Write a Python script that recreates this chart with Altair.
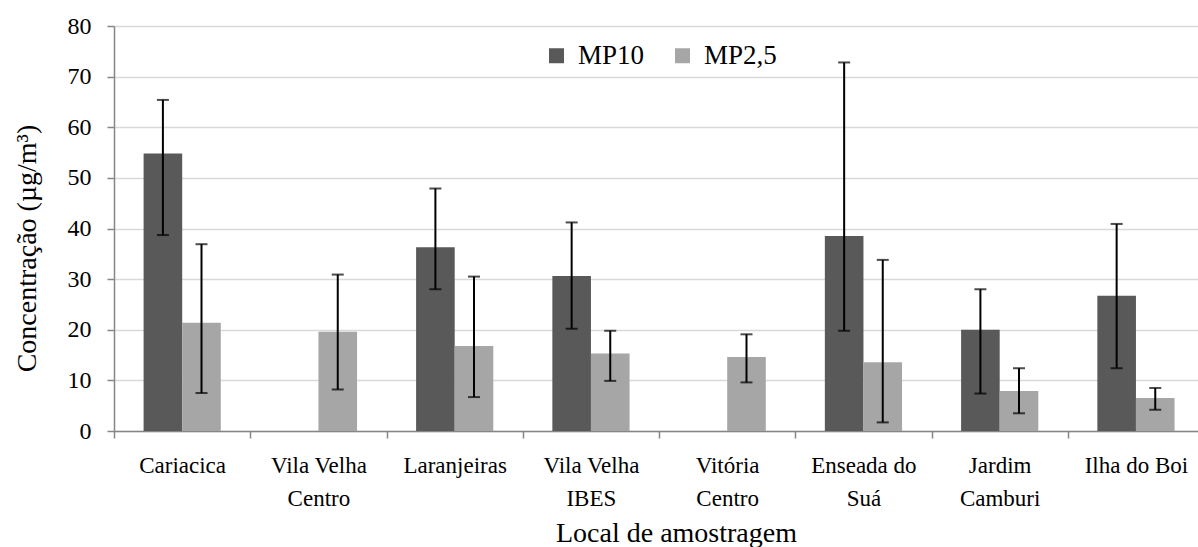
import altair as alt
import pandas as pd

# Sampling sites ("|" marks a line break in the axis label)
locais = [
    "Cariacica",
    "Vila Velha|Centro",
    "Laranjeiras",
    "Vila Velha|IBES",
    "Vitória|Centro",
    "Enseada do|Suá",
    "Jardim|Camburi",
    "Ilha do Boi",
]
series = ["MP10", "MP2,5"]

# Mean concentrations and error-bar limits (µg/m³); None = not measured
mp10 = [54.8, None, 36.3, 30.6, None, 38.5, 20.0, 26.7]
mp10_min = [38.7, None, 28.0, 20.2, None, 19.8, 7.4, 12.4]
mp10_max = [65.4, None, 47.9, 41.2, None, 72.8, 28.0, 40.9]

mp25 = [21.4, 19.6, 16.8, 15.3, 14.6, 13.6, 7.9, 6.5]
mp25_min = [7.5, 8.2, 6.7, 9.9, 9.6, 1.7, 3.5, 4.2]
mp25_max = [36.9, 30.9, 30.5, 19.8, 19.1, 33.8, 12.4, 8.5]

rows = []
for i, loc in enumerate(locais):
    for serie, v, lo, hi in (
        ("MP10", mp10[i], mp10_min[i], mp10_max[i]),
        ("MP2,5", mp25[i], mp25_min[i], mp25_max[i]),
    ):
        if v is not None:
            rows.append({"local": loc, "serie": serie, "valor": v, "min": lo, "max": hi})
df = pd.DataFrame(rows)

FONT = "Times New Roman"
GRID = "#d9d9d9"
AXIS = "#868686"

x_enc = alt.X(
    "local:N",
    sort=locais,
    scale=alt.Scale(domain=locais, range=[0, 1090], paddingInner=0, paddingOuter=0),
    axis=alt.Axis(
        title="Local de amostragem",
        titleFont=FONT,
        labelFont=FONT,
        titleX=562,
        titleY=102,
        titleAlign="center",
        titleBaseline="middle",
        labelExpr="split(datum.label, '|')",
        labelAngle=0,
        labelFontSize=23,
        labelLineHeight=33,
        labelPadding=16,
        labelOverlap=False,
        labelLimit=0,
        tickBand="extent",
        grid=False,
    ),
)
xoff_enc = alt.XOffset(
    "serie:N", sort=series, scale=alt.Scale(domain=series, range=[29.6, 106.8])
)

y_scale = alt.Scale(domain=[0, 80], nice=False)
y_axis = alt.Axis(
    title="Concentração (µg/m³)",
    titleFont=FONT,
    labelFont=FONT,
    titleX=-87,
    titleY=222,
    titleAngle=270,
    titleAlign="center",
    titleBaseline="middle",
    values=list(range(0, 90, 10)),
    labelFontSize=24,
    labelPadding=16,
    grid=True,
)

base = alt.Chart(df)

bars = base.mark_bar().encode(
    x=x_enc,
    xOffset=xoff_enc,
    y=alt.Y("valor:Q", scale=y_scale, axis=y_axis),
    color=alt.Color(
        "serie:N",
        sort=series,
        scale=alt.Scale(domain=series, range=["#595959", "#a6a6a6"]),
        legend=alt.Legend(
            title=None,
            orient="none",
            legendX=429,
            legendY=16,
            direction="horizontal",
            symbolType="square",
            symbolSize=225,
            symbolStrokeWidth=0,
            symbolOpacity=1,
            labelFont=FONT,
            labelFontSize=27,
            labelOffset=8,
            columnPadding=24,
            padding=0,
        ),
    ),
)

# Error bars: vertical whisker plus a cap at each end
whisker = base.mark_rule(color="black", strokeWidth=2).encode(
    x=alt.X("local:N", sort=locais),
    xOffset=alt.XOffset("serie:N", sort=series),
    y=alt.Y("min:Q", scale=y_scale),
    y2="max:Q",
)
cap_lo = base.mark_tick(color="black", size=12, thickness=2).encode(
    x=alt.X("local:N", sort=locais),
    xOffset=alt.XOffset("serie:N", sort=series),
    y=alt.Y("min:Q", scale=y_scale),
)
cap_hi = base.mark_tick(color="black", size=12, thickness=2).encode(
    x=alt.X("local:N", sort=locais),
    xOffset=alt.XOffset("serie:N", sort=series),
    y=alt.Y("max:Q", scale=y_scale),
)

chart = (
    alt.layer(bars, whisker, cap_lo, cap_hi)
    .properties(
        width=1084,
        height=405,
        autosize=alt.AutoSizeParams(type="none"),
        padding={"left": 114, "top": 26, "right": 0, "bottom": 116},
        background="white",
    )
    .configure(font=FONT)
    .configure_axis(
        labelFont=FONT,
        titleFont=FONT,
        labelColor="black",
        titleColor="black",
        titleFontSize=28,
        titleFontWeight="normal",
        tickSize=7,
        tickWidth=1.5,
        tickColor=AXIS,
        domainColor=AXIS,
        domainWidth=1.5,
        gridColor=GRID,
        gridWidth=1.5,
    )
    .configure_legend(labelFont=FONT, labelColor="black")
    .configure_view(stroke=None)
)

chart.save("out.html", embed_options={"renderer": "svg", "actions": False})
